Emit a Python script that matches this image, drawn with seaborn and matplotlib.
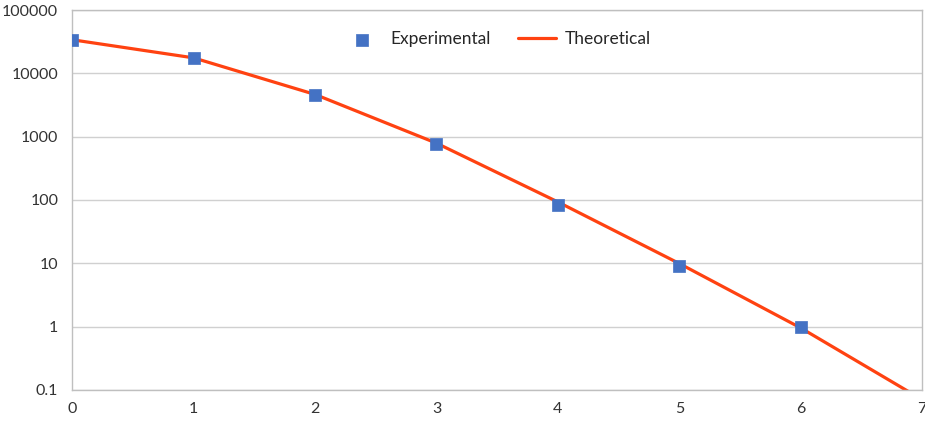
import numpy as np
import pandas as pd
import matplotlib
matplotlib.use("Agg")
import matplotlib.pyplot as plt
import seaborn as sns
from matplotlib.ticker import FixedLocator, FixedFormatter, NullLocator

exp_x = [0, 1, 2, 3, 4, 5, 6]
exp_y = [33600, 17500, 4550, 755, 84, 8.9, 1.0]

theo_x = [0, 1, 2, 3, 4, 5, 6, 7]
theo_y = [34000, 17600, 4650, 790, 93, 9.9, 0.95, 0.07]

y_ticks = [0.1, 1, 10, 100, 1000, 10000, 100000]
y_labels = ["0.1", "1", "10", "100", "1000", "10000", "100000"]
x_ticks = [0, 1, 2, 3, 4, 5, 6, 7]

sns.set_theme(style="white")
plt.rcParams["font.family"] = ["Lato", "DejaVu Sans"]

exp_df = pd.DataFrame({"x": exp_x, "y": exp_y})
theo_df = pd.DataFrame({"x": theo_x, "y": theo_y})

fig = plt.figure(figsize=(9.25, 4.21), dpi=100)
ax = fig.add_axes([0.078, 0.074, 0.919, 0.902])

sns.lineplot(data=theo_df, x="x", y="y", color="#FF4211", linewidth=2.3,
             label="Theoretical", ax=ax, zorder=2)
sns.scatterplot(data=exp_df, x="x", y="y", color="#4472C4", marker="s", s=80,
                edgecolor="#4472C4", linewidth=0.5, label="Experimental", ax=ax, zorder=3)

ax.set_yscale("log")
ax.set_ylim(0.1, 100000)
ax.set_xlim(0, 7)
ax.yaxis.set_major_locator(FixedLocator(y_ticks))
ax.yaxis.set_major_formatter(FixedFormatter(y_labels))
ax.yaxis.set_minor_locator(NullLocator())
ax.set_xticks(x_ticks)
ax.set_xticklabels([str(v) for v in x_ticks])
ax.tick_params(axis="both", length=0, labelsize=11.5, colors="#333333")
ax.tick_params(axis="x", pad=9)
ax.tick_params(axis="y", pad=10)
ax.grid(axis="y", color="#D0D0D0", linewidth=1)
ax.grid(axis="x", visible=False)
for sp in ax.spines.values():
    sp.set_color("#BFBFBF")
    sp.set_linewidth(1)
ax.set_xlabel("")
ax.set_ylabel("")

handles, labels = ax.get_legend_handles_labels()
order = [labels.index("Experimental"), labels.index("Theoretical")]
ax.legend([handles[i] for i in order], [labels[i] for i in order],
          loc="upper center", bbox_to_anchor=(0.5, 0.985), ncol=2, frameon=False,
          fontsize=12.5, handlelength=2.2, columnspacing=1.6, handletextpad=0.5)

fig.savefig("out.png", dpi=100)
